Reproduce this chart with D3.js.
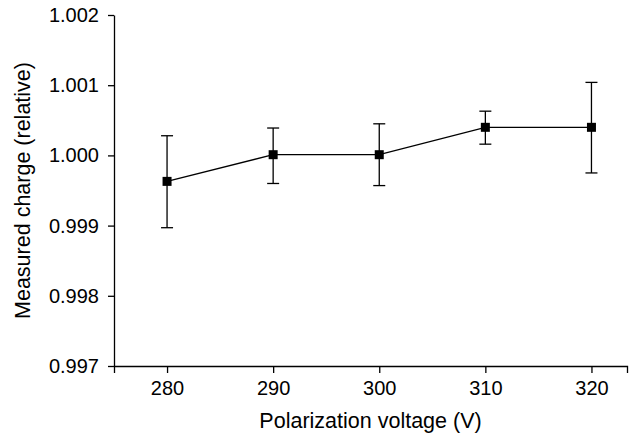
<!DOCTYPE html>
<html>
<head>
<meta charset="utf-8">
<script src="https://cdn.jsdelivr.net/npm/d3@7"></script>
<style>
  body { margin: 0; background: #fff; }
  svg { display: block; font-family: "Liberation Sans", Arial, sans-serif; }
</style>
</head>
<body>
<svg width="635" height="437"></svg>
<script>
const voltages = [280, 290, 300, 310, 320];
const charge = [0.99963, 1.00001, 1.00001, 1.0004, 1.0004];
const errTop = [1.00028, 1.00039, 1.00045, 1.00063, 1.00104];
const errBottom = [0.99897, 0.9996, 0.99957, 1.00016, 0.99975];
const xTicks = [280, 290, 300, 310, 320];
const yTicks = [0.997, 0.998, 0.999, 1.000, 1.001, 1.002];

const svg = d3.select("svg");

const x = d3.scaleLinear()
  .domain([275, 323.35])
  .range([114, 627]);

const y = d3.scaleLinear()
  .domain([0.997, 1.002])
  .range([366, 15]);

const data = voltages.map((v, i) => ({
  v: v, c: charge[i], hi: errTop[i], lo: errBottom[i]
}));

// axes
const xAxis = svg.append("g")
  .attr("transform", "translate(0," + y(0.997) + ")")
  .call(d3.axisBottom(x)
    .tickValues(xTicks)
    .tickSize(7)
    .tickSizeOuter(7)
    .tickPadding(5)
    .tickFormat(d3.format("d")));

const yAxis = svg.append("g")
  .attr("transform", "translate(" + x(275) + ",0)")
  .call(d3.axisLeft(y)
    .tickValues(yTicks)
    .tickSize(6)
    .tickSizeOuter(0)
    .tickPadding(9)
    .tickFormat(d3.format(".3f")));

[xAxis, yAxis].forEach(g => {
  g.select(".domain").attr("stroke", "#000").attr("stroke-width", 1.3);
  g.selectAll(".tick line").attr("stroke", "#000").attr("stroke-width", 1.3);
  g.selectAll(".tick text")
    .attr("fill", "#000")
    .style("font-size", "20px")
    .style("font-family", "Liberation Sans, Arial, sans-serif");
});
xAxis.selectAll(".tick text").attr("dy", "0.85em");

// error bars
const eb = svg.append("g")
  .attr("stroke", "#000")
  .attr("stroke-width", 1.3);

eb.selectAll(".bar")
  .data(data)
  .enter().append("line")
  .attr("x1", d => x(d.v))
  .attr("x2", d => x(d.v))
  .attr("y1", d => y(d.hi))
  .attr("y2", d => y(d.lo));

eb.selectAll(".capTop")
  .data(data)
  .enter().append("line")
  .attr("x1", d => x(d.v) - 6)
  .attr("x2", d => x(d.v) + 6)
  .attr("y1", d => y(d.hi))
  .attr("y2", d => y(d.hi));

eb.selectAll(".capBottom")
  .data(data)
  .enter().append("line")
  .attr("x1", d => x(d.v) - 6)
  .attr("x2", d => x(d.v) + 6)
  .attr("y1", d => y(d.lo))
  .attr("y2", d => y(d.lo));

// connecting line
const line = d3.line()
  .x(d => x(d.v))
  .y(d => y(d.c));

svg.append("path")
  .datum(data)
  .attr("fill", "none")
  .attr("stroke", "#000")
  .attr("stroke-width", 1.3)
  .attr("d", line);

// markers
svg.selectAll(".pt")
  .data(data)
  .enter().append("rect")
  .attr("x", d => x(d.v) - 4.5)
  .attr("y", d => y(d.c) - 4.5)
  .attr("width", 9)
  .attr("height", 9)
  .attr("fill", "#000");

// axis titles
svg.append("text")
  .attr("x", (x.range()[0] + x.range()[1]) / 2)
  .attr("y", 428)
  .attr("text-anchor", "middle")
  .style("font-size", "21.5px")
  .text("Polarization voltage (V)");

svg.append("text")
  .attr("transform", "translate(30," + (y.range()[0] + y.range()[1]) / 2 + ") rotate(-90)")
  .attr("text-anchor", "middle")
  .style("font-size", "21.5px")
  .text("Measured charge (relative)");
</script>
</body>
</html>
